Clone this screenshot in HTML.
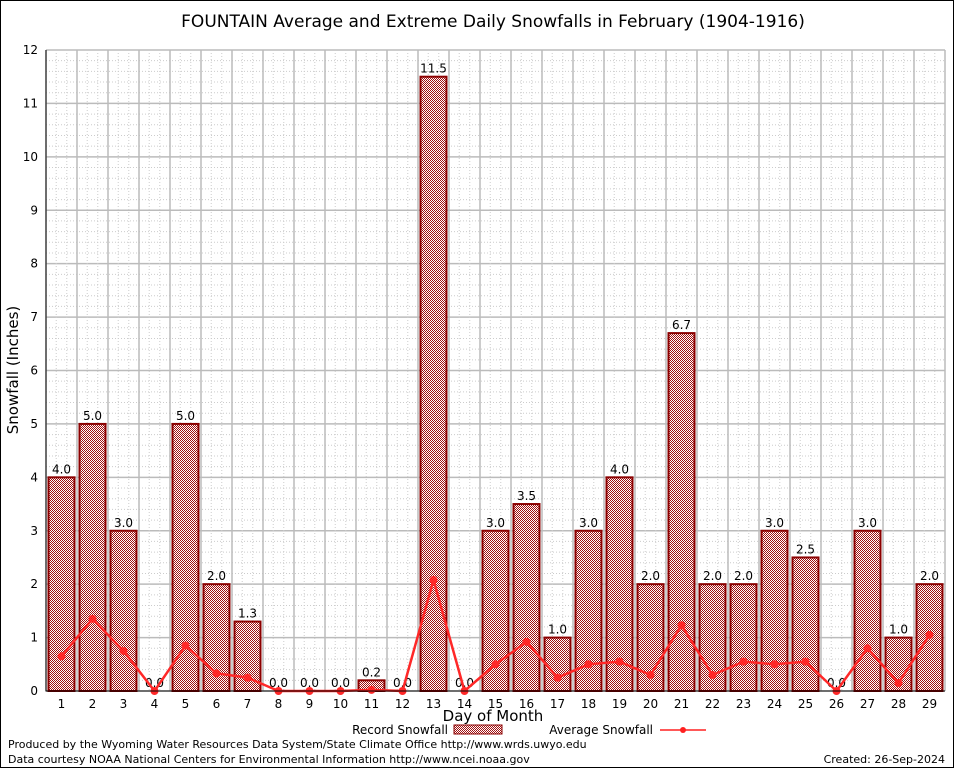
<!DOCTYPE html>
<html><head><meta charset="utf-8"><style>
body{margin:0;background:#fff;}
svg text{font-family:"DejaVu Sans","Liberation Sans",sans-serif;}
</style></head><body>
<svg id="chart" width="954" height="768" xmlns="http://www.w3.org/2000/svg">
<defs>
<pattern id="chk" width="2" height="2" patternUnits="userSpaceOnUse">
<rect width="2" height="2" fill="#ffffff"/><rect width="1" height="1" fill="#a01010"/><rect x="1" y="1" width="1" height="1" fill="#a01010"/>
</pattern>
</defs>
<rect x="0.5" y="0.5" width="953" height="767" fill="#fff" stroke="#000"/>
<text x="493" y="27" font-size="17" text-anchor="middle" font-family="Liberation Sans">FOUNTAIN Average and Extreme Daily Snowfalls in February (1904-1916)</text>
<g id="grid"></g>
<g id="bars"></g>
<g id="line"></g>
<g id="axes"></g>
<text x="18" y="370" font-size="15" text-anchor="middle" transform="rotate(-90 18 370)">Snowfall (Inches)</text>
<text x="493" y="721" font-size="15" text-anchor="middle">Day of Month</text>
<g>
<text x="448" y="734" font-size="12" text-anchor="end">Record Snowfall</text>
<rect x="454" y="725" width="48" height="9" fill="url(#chk)" stroke="#8b0000"/>
<text x="653" y="734" font-size="12" text-anchor="end">Average Snowfall</text>
<line x1="660" y1="730" x2="706" y2="730" stroke="#ff2020" stroke-width="1.5"/>
<circle cx="683" cy="730" r="3" fill="#ff2020"/>
</g>
<text x="8" y="748" font-size="11">Produced by the Wyoming Water Resources Data System/State Climate Office http://www.wrds.uwyo.edu</text>
<text x="8" y="763" font-size="11">Data courtesy NOAA National Centers for Environmental Information http://www.ncei.noaa.gov</text>
<text x="945" y="763" font-size="11" text-anchor="end">Created:  26-Sep-2024</text>
</svg>
<script>
const days=[1,2,3,4,5,6,7,8,9,10,11,12,13,14,15,16,17,18,19,20,21,22,23,24,25,26,27,28,29];
const recordValues=[4.0,5.0,3.0,0.0,5.0,2.0,1.3,0.0,0.0,0.0,0.2,0.0,11.5,0.0,3.0,3.5,1.0,3.0,4.0,2.0,6.7,2.0,2.0,3.0,2.5,0.0,3.0,1.0,2.0];
const averageValues=[0.65,1.35,0.75,0,0.85,0.33,0.25,0,0,0,0.02,0,2.08,0,0.5,0.92,0.25,0.5,0.55,0.3,1.23,0.3,0.55,0.5,0.55,0,0.8,0.15,1.05];
const yTicks=[0,1,2,3,4,5,6,7,8,9,10,11,12];
const NS="http://www.w3.org/2000/svg";
const L=46,R=945,T=50,B=691,YMAX=12;
const slot=(R-L)/days.length;
const x=i=>L+slot*(i+0.5);
const y=v=>B-(v/YMAX)*(B-T);
function mk(tag,attrs,parent,txt){const e=document.createElementNS(NS,tag);for(const k in attrs)e.setAttribute(k,attrs[k]);if(txt!==undefined)e.textContent=txt;parent.appendChild(e);return e;}
const grid=document.getElementById('grid'),bars=document.getElementById('bars'),line=document.getElementById('line'),axes=document.getElementById('axes');
for(let v=0;v<=YMAX;v+=0.2){const yy=y(v);const major=Math.abs(v-Math.round(v))<1e-6;
 const g=mk('line',{x1:L,x2:R,y1:yy,y2:yy,stroke:major?'#bbb':'#ccc','stroke-width':major?1.5:1,'stroke-dasharray':major?'':'1,2'},grid);
 
 }
for(let i=0;i<=days.length;i++){const xx=L+slot*i;
 const g=mk('line',{x1:xx,x2:xx,y1:T,y2:B,stroke:'#bbb','stroke-width':1.5},grid);
 
 
 if(i<days.length){for(const f of [0.33,0.67]){const m=mk('line',{x1:xx+slot*f,x2:xx+slot*f,y1:T,y2:B,stroke:'#ccc','stroke-dasharray':'1,2'},grid);
 
 }}}
const bw=26;
days.forEach((d,i)=>{const v=recordValues[i];
 if(v>0){const r=mk('rect',{x:x(i)-bw/2,y:y(v),width:bw,height:B-y(v),fill:'url(#chk)',stroke:'#8b0000','stroke-width':2},bars);
 
 }
 const t=mk('text',{x:x(i),y:y(v)-4,'font-size':12,'text-anchor':'middle'},bars,v.toFixed(1));
 
 
 const xt=mk('text',{x:x(i),y:B+17,'font-size':12,'text-anchor':'middle','font-family':'Liberation Serif'},axes,String(d));
 
 });
const pl=mk('polyline',{points:averageValues.map((v,i)=>x(i)+','+y(v)).join(' '),fill:'none',stroke:'#ff2828','stroke-width':2.5},line);


averageValues.forEach((v,i)=>{const c=mk('circle',{cx:x(i),cy:y(v),r:4,fill:'#ff2828'},line);
 
 });
yTicks.forEach(v=>{const t=mk('text',{x:L-8,y:y(v)+4,'font-size':12,'text-anchor':'end','font-family':'Liberation Serif'},axes,String(v));
 
 });
const ax=mk('path',{d:`M${L},${T} V${B} H${R}`,fill:'none',stroke:'#000','stroke-width':1},axes);


</script>
</body></html>
